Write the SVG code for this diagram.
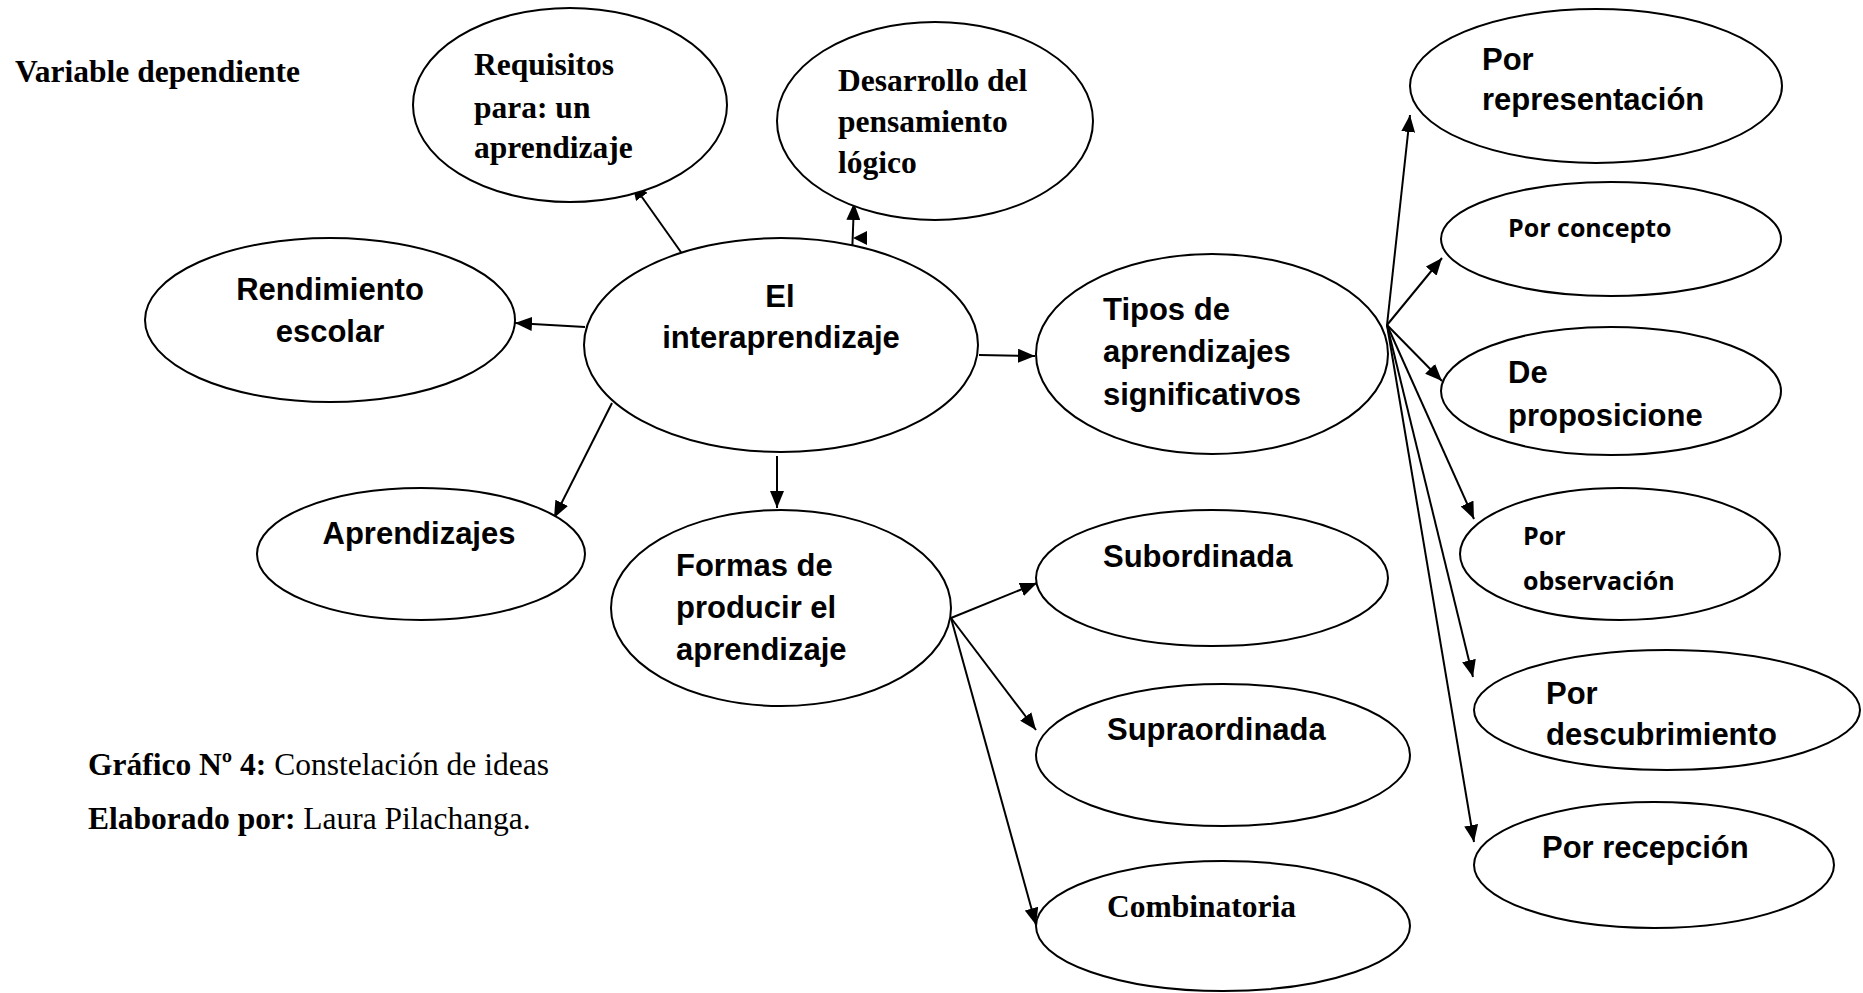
<svg xmlns="http://www.w3.org/2000/svg" width="1863" height="993" viewBox="0 0 1863 993">
<style>
  .node ellipse { fill: #ffffff; stroke: #000000; stroke-width: 2; }
  .ar { font-family: "Liberation Sans", Arial, sans-serif; font-weight: bold; font-size: 31px; fill: #000; }
  .tm { font-family: "Liberation Serif", "Times New Roman", serif; font-weight: bold; font-size: 31.5px; fill: #000; }
  .cb { font-family: "Open Sans", "Liberation Sans", sans-serif; font-weight: bold; font-size: 25px; fill: #000; }
  .cap { font-family: "Liberation Serif", "Times New Roman", serif; font-size: 31.5px; fill: #000; }
  .cap .b { font-weight: bold; }
  .mid { text-anchor: middle; }
  #connectors line { stroke: #000; stroke-width: 2; marker-end: url(#arrow); }
</style>
<defs>
  <marker id="arrow" markerUnits="userSpaceOnUse" markerWidth="18" markerHeight="14" refX="17" refY="7" orient="auto">
    <path d="M0,0 L17,7 L0,14 Z" fill="#000"/>
  </marker>
</defs>
<rect width="1863" height="993" fill="#ffffff"/>

<text class="tm" x="15" y="82">Variable dependiente</text>

<g id="connectors">
  <line x1="683" y1="255" x2="632" y2="183"/>
  <line x1="852" y1="256" x2="854" y2="203"/>
  <line x1="585" y1="327" x2="515" y2="323"/>
  <line x1="612" y1="403" x2="554" y2="518"/>
  <line x1="777" y1="456" x2="777" y2="508"/>
  <line x1="979" y1="355" x2="1035" y2="356"/>
  <line x1="1387" y1="325" x2="1410" y2="115"/>
  <line x1="1387" y1="325" x2="1442" y2="258"/>
  <line x1="1387" y1="325" x2="1442" y2="381"/>
  <line x1="1387" y1="325" x2="1474" y2="519"/>
  <line x1="1387" y1="325" x2="1473" y2="677"/>
  <line x1="1387" y1="325" x2="1474" y2="842"/>
  <line x1="951" y1="618" x2="1037" y2="583"/>
  <line x1="951" y1="618" x2="1036" y2="730"/>
  <line x1="951" y1="618" x2="1036" y2="925"/>
  <polygon points="853,238 867,231 867,245" fill="#000"/>
</g>

<g id="n-requisitos" class="node">
  <ellipse cx="570" cy="105" rx="157" ry="97"/>
  <text class="tm" x="474" y="75">Requisitos</text>
  <text class="tm" x="474" y="118">para: un</text>
  <text class="tm" x="474" y="158">aprendizaje</text>
</g>
<g id="n-desarrollo" class="node">
  <ellipse cx="935" cy="121" rx="158" ry="99"/>
  <text class="tm" x="838" y="91">Desarrollo del</text>
  <text class="tm" x="838" y="132">pensamiento</text>
  <text class="tm" x="838" y="173">lógico</text>
</g>
<g id="n-interaprendizaje" class="node">
  <ellipse cx="781" cy="345" rx="197" ry="107"/>
  <text class="ar mid" x="780" y="307">El</text>
  <text class="ar mid" x="781" y="348">interaprendizaje</text>
</g>
<g id="n-rendimiento" class="node">
  <ellipse cx="330" cy="320" rx="185" ry="82"/>
  <text class="ar mid" x="330" y="300">Rendimiento</text>
  <text class="ar mid" x="330" y="342">escolar</text>
</g>
<g id="n-aprendizajes" class="node">
  <ellipse cx="421" cy="554" rx="164" ry="66"/>
  <text class="ar mid" x="419" y="544">Aprendizajes</text>
</g>
<g id="n-formas" class="node">
  <ellipse cx="781" cy="608" rx="170" ry="98"/>
  <text class="ar" x="676" y="576">Formas de</text>
  <text class="ar" x="676" y="618">producir el</text>
  <text class="ar" x="676" y="660">aprendizaje</text>
</g>
<g id="n-tipos" class="node">
  <ellipse cx="1212" cy="354" rx="176" ry="100"/>
  <text class="ar" x="1103" y="320">Tipos de</text>
  <text class="ar" x="1103" y="362">aprendizajes</text>
  <text class="ar" x="1103" y="405">significativos</text>
</g>
<g id="n-subordinada" class="node">
  <ellipse cx="1212" cy="578" rx="176" ry="68"/>
  <text class="ar" x="1103" y="567">Subordinada</text>
</g>
<g id="n-supraordinada" class="node">
  <ellipse cx="1223" cy="755" rx="187" ry="71"/>
  <text class="ar" x="1107" y="740">Supraordinada</text>
</g>
<g id="n-combinatoria" class="node">
  <ellipse cx="1223" cy="926" rx="187" ry="65"/>
  <text class="tm" x="1107" y="917">Combinatoria</text>
</g>
<g id="n-representacion" class="node">
  <ellipse cx="1596" cy="86" rx="186" ry="77"/>
  <text class="ar" x="1482" y="70">Por</text>
  <text class="ar" x="1482" y="110">representación</text>
</g>
<g id="n-concepto" class="node">
  <ellipse cx="1611" cy="239" rx="170" ry="57"/>
  <text class="cb" x="1508" y="237">Por concepto</text>
</g>
<g id="n-proposicione" class="node">
  <ellipse cx="1611" cy="391" rx="170" ry="64"/>
  <text class="ar" x="1508" y="383">De</text>
  <text class="ar" x="1508" y="426">proposicione</text>
</g>
<g id="n-observacion" class="node">
  <ellipse cx="1620" cy="554" rx="160" ry="66"/>
  <text class="cb" x="1523" y="545">Por</text>
  <text class="cb" x="1523" y="590">observación</text>
</g>
<g id="n-descubrimiento" class="node">
  <ellipse cx="1667" cy="710" rx="193" ry="60"/>
  <text class="ar" x="1546" y="704">Por</text>
  <text class="ar" x="1546" y="745">descubrimiento</text>
</g>
<g id="n-recepcion" class="node">
  <ellipse cx="1654" cy="865" rx="180" ry="63"/>
  <text class="ar" x="1542" y="858">Por recepción</text>
</g>

<text class="cap" x="88" y="775"><tspan class="b">Gráfico Nº 4:</tspan> Constelación de ideas</text>
<text class="cap" x="88" y="829"><tspan class="b">Elaborado por:</tspan> Laura Pilachanga.</text>
</svg>
